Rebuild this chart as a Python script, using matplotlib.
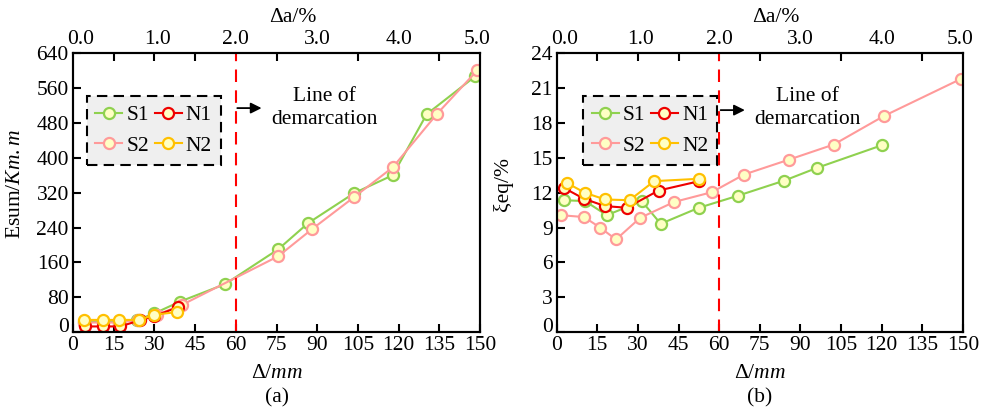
import matplotlib
matplotlib.use("Agg")
import matplotlib.pyplot as plt

plt.rcParams['font.family'] = ['Liberation Serif', 'DejaVu Serif']
plt.rcParams['mathtext.fontset'] = 'custom'
plt.rcParams['mathtext.rm'] = 'Liberation Serif'
plt.rcParams['mathtext.it'] = 'Liberation Serif:italic'
plt.rcParams['font.size'] = 15.5

# ---- panel (a): cumulative energy ----
a_s1_x = [4, 11, 17, 23.5, 30, 39.4, 56, 75.6, 86.6, 103.6, 117.8, 130.3, 148.2]
a_s1_y = [24, 24, 24, 27, 43, 70, 110, 190, 250, 319, 360, 500, 587]
a_s2_x = [4, 11, 17, 24, 31, 40, 75.6, 88, 103.6, 117.8, 134, 149]
a_s2_y = [22, 22, 22, 28, 40, 62, 174, 236, 310, 378, 500, 601]
a_n1_x = [4.4, 11, 17.3, 24.7, 30, 38.7]
a_n1_y = [13, 13, 13, 27, 37, 57]
a_n2_x = [4, 11, 17, 24.5, 30, 38.5]
a_n2_y = [28, 28, 28, 28, 40, 46]

# ---- panel (b): equivalent damping ratio ----
b_s1_x = [2.7, 10.5, 18.5, 31.4, 38.4, 52.4, 67.1, 84.1, 96.1, 120.1]
b_s1_y = [11.35, 11.27, 10.06, 11.27, 9.32, 10.69, 11.75, 13.04, 14.13, 16.08]
b_s2_x = [1.5, 10.1, 16, 21.9, 30.8, 43.4, 57.3, 69.2, 85.9, 102.3, 120.7, 149.4]
b_s2_y = [10.06, 9.9, 9.0, 7.97, 9.83, 11.2, 12.04, 13.56, 14.85, 16.14, 18.58, 21.8]
b_n1_x = [2.7, 10.1, 17.9, 25.9, 37.6, 52.7]
b_n1_y = [12.4, 11.47, 10.84, 10.7, 12.18, 12.99]
b_n2_x = [3.7, 10.5, 17.9, 26.9, 36.0, 52.4]
b_n2_y = [12.84, 11.98, 11.41, 11.35, 12.99, 13.19]

x_ticks = list(range(0, 151, 15))
top_pos = [3, 31, 60, 90, 120, 149]
top_labels = ['0.0', '1.0', '2.0', '3.0', '4.0', '5.0']

colors = {'S1': '#8fd14f', 'S2': '#ff9a9a', 'N1': '#ee0000', 'N2': '#ffc000'}
face = '#ffffc4'

fig = plt.figure(figsize=(9.86, 4.09), dpi=100)
ax_a = fig.add_axes([0.074, 0.188, 0.413, 0.682])
ax_b = fig.add_axes([0.5646, 0.188, 0.412, 0.682])


def draw(ax, series, ylim, yticks, ylabel, arrow_y, text_y, tag, leg_x, ylab_x):
    for name, xs, ys in series:
        ax.plot(xs, ys, '-o', color=colors[name], lw=1.5, ms=8, mew=1.6,
                mfc=face, mec=colors[name], label=name)
    ax.set_xlim(0, 150)
    ax.set_ylim(*ylim)
    ax.set_xticks(x_ticks)
    ax.set_yticks(yticks)
    ax.tick_params(direction='in', length=6, width=1.5, top=False, right=False,
                   pad=3)
    ax.get_yticklabels()[0].set_va('baseline')
    for s in ax.spines.values():
        s.set_linewidth(1.5)
    ax.axvline(60, color='#ff0000', ls=(0, (6, 4)), lw=1.5)
    ax.annotate('', xy=(70.5, arrow_y), xytext=(59.5, arrow_y),
                arrowprops=dict(arrowstyle='-|>', color='black', lw=1.3,
                                mutation_scale=16))
    ax.text(92.5, text_y, 'Line of\ndemarcation', ha='center', va='center',
            linespacing=1.3)
    ax.set_xlabel(r'$\Delta/\mathit{mm}$', labelpad=6)
    ax.set_ylabel(ylabel)
    ax.yaxis.set_label_coords(ylab_x, 0.53)
    ax.yaxis.label.set_va('center')
    ax.text(0.5, -0.235, tag, transform=ax.transAxes, ha='center', va='center')
    leg = ax.legend(ncol=2, loc='upper left', bbox_to_anchor=(leg_x, 0.845),
                    borderaxespad=0, handlelength=1.25, handletextpad=0.2,
                    columnspacing=0.25, borderpad=0.4, labelspacing=0.5,
                    fancybox=False, framealpha=1, facecolor='#efefef',
                    edgecolor='black')
    leg.get_frame().set_linestyle((0, (5, 3)))
    leg.get_frame().set_linewidth(1.5)

    top = ax.twiny()
    top.set_xlim(0, 150)
    top.set_xticks(top_pos)
    top.set_xticklabels(top_labels)
    top.set_xticks(x_ticks[1:-1], minor=True)
    top.tick_params(which='major', length=0, pad=3)
    top.tick_params(which='minor', direction='in', length=6, width=1.5)
    top.set_xlabel('Δa/%')
    top.xaxis.set_label_coords(0.54, 1.11)
    for s in top.spines.values():
        s.set_linewidth(1.5)


# legend order S1, S2, N1, N2 -> column layout S1/S2, N1/N2
draw(ax_a, [('S1', a_s1_x, a_s1_y), ('S2', a_s2_x, a_s2_y),
            ('N1', a_n1_x, a_n1_y), ('N2', a_n2_x, a_n2_y)],
     (0, 640), list(range(0, 641, 80)), r'Esum/$\mathit{Km.m}$', 514, 514,
     '(a)', 0.034, -0.142)
draw(ax_b, [('S1', b_s1_x, b_s1_y), ('S2', b_s2_x, b_s2_y),
            ('N1', b_n1_x, b_n1_y), ('N2', b_n2_x, b_n2_y)],
     (0, 24), list(range(0, 25, 3)), 'ξeq/%', 19.1, 19.3, '(b)', 0.065, -0.133)

fig.savefig('out.png', dpi=100)
